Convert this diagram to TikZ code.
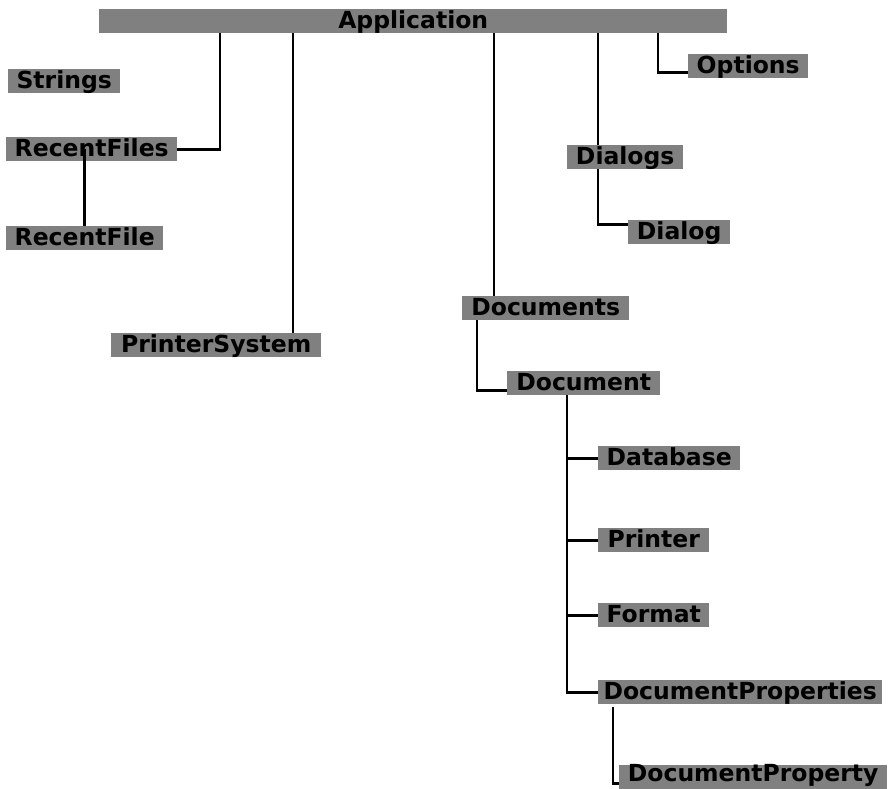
\documentclass[tikz,border=0pt]{standalone}
\usepackage{fontspec}
\setmainfont{DejaVu Sans}
\usepackage{tikz}

\begin{document}
\begin{tikzpicture}[x=1pt,y=-1pt,
    box/.style={fill=gray,anchor=north west,inner xsep=0pt,inner ysep=1pt,
        minimum height=24pt,text height=18pt,text depth=4pt,
        font=\fontsize{23.5}{27}\selectfont\bfseries},
    link/.style={line width=2.8pt}]
\useasboundingbox (0,0) rectangle (893,788);
% nodes
\node[box,minimum width=628pt] (app) at (99,9) {Application};
\node[box,minimum width=112pt] (strings) at (8,69) {Strings};
\node[box,minimum width=171pt] (recentfiles) at (6,137) {RecentFiles};
\node[box,minimum width=157pt] (recentfile) at (6,226) {RecentFile};
\node[box,minimum width=210pt] (printersystem) at (111,333) {PrinterSystem};
\node[box,minimum width=167pt] (documents) at (462,296) {Documents};
\node[box,minimum width=153pt] (document) at (507,371) {Document};
\node[box,minimum width=120pt] (options) at (688,54) {Options};
\node[box,minimum width=116pt] (dialogs) at (567,145) {Dialogs};
\node[box,minimum width=102pt] (dialog) at (628,220) {Dialog};
\node[box,minimum width=142pt] (database) at (598,446) {Database};
\node[box,minimum width=111pt] (printer) at (598,528) {Printer};
\node[box,minimum width=111pt] (format) at (598,603) {Format};
\node[box,minimum width=284pt] (docprops) at (598,680) {DocumentProperties};
\node[box,minimum width=268pt,text height=15pt,text depth=7pt] (docprop) at (619,765) {DocumentProperty};
% connectors
\draw[link] (app.south -| 220,0) |- (recentfiles.east);
\draw[link] (recentfiles.center -| recentfile.north) -- (recentfile.north);
\draw[link] (app.south -| 293,0) -- (printersystem.north -| 293,0);
\draw[link] (app.south -| 494,0) -- (documents.north -| 494,0);
\draw[link] (documents.south -| 477,0) |- ([yshift=-7pt]document.west);
\draw[link] (document.south -| 567,0) |- (docprops.west);
\foreach \n in {database,printer,format}
    \draw[link] (\n.west) -- (\n.west -| 567,0);
\draw[link] ([yshift=-3pt]docprops.south -| 613,0) |- ([yshift=-6.5pt]docprop.west);
\draw[link] (app.south -| 598,0) -- (dialogs.north -| 598,0);
\draw[link] (dialogs.south -| 598,0) |- ([yshift=8pt]dialog.west);
\draw[link] (app.south -| 658,0) |- ([yshift=-6pt]options.west);
\end{tikzpicture}
\end{document}
